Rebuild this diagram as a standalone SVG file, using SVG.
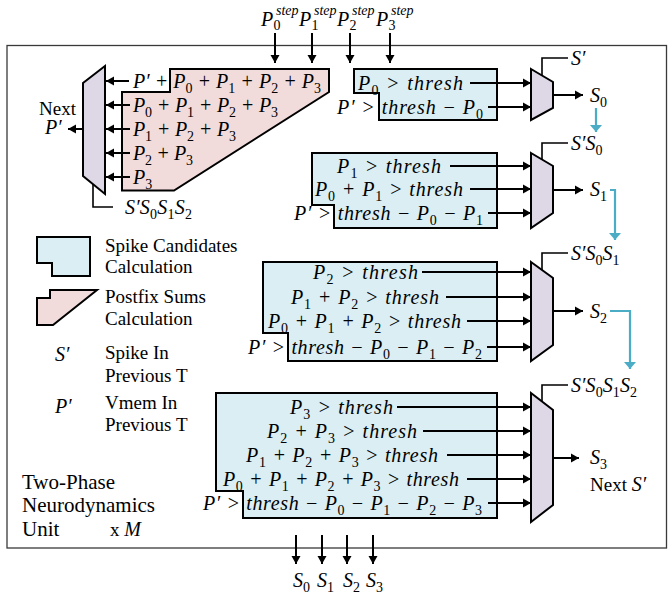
<svg xmlns="http://www.w3.org/2000/svg" width="669" height="597" viewBox="0 0 669 597">
<defs>
<style>
.fr{fill:none;stroke:#3a3a3a;stroke-width:1.3}
.bx{fill:#daeef3;stroke:#000;stroke-width:2}
.pk{fill:#f2dcdb;stroke:#000;stroke-width:2}
.mx{fill:#ddd7e6;stroke:#000;stroke-width:2}
.ar{stroke:#000;stroke-width:2;fill:none;marker-end:url(#ah)}
.ln{stroke:#000;stroke-width:1.6;fill:none}
.bl{stroke:#4bacc6;stroke-width:2.2;fill:none;marker-end:url(#bh)}
.m{font-family:"Liberation Serif",serif;font-style:italic;font-size:20px}
.s{font-size:14px;font-style:normal}
.si{font-size:14px}
.t{font-family:"Liberation Serif",serif;font-size:19px}
.u{font-family:"Liberation Serif",serif;font-size:21px}
</style>
<marker id="ah" markerUnits="userSpaceOnUse" markerWidth="9" markerHeight="10" refX="8" refY="5" orient="auto"><path d="M0,0.5 L8,5 L0,9.5 z" fill="#000"/></marker>
<marker id="bh" markerUnits="userSpaceOnUse" markerWidth="8" markerHeight="12" refX="7" refY="6" orient="auto"><path d="M0,0 L7,6 L0,12 z" fill="#4bacc6"/></marker>
</defs>
<rect width="669" height="597" fill="#fff"/>
<rect id="frame" class="fr" x="7" y="45.5" width="659.5" height="502.5"/>

<g id="top-inputs">
<text class="m" x="261" y="26">P<tspan class="s" x="273.5" y="30">0</tspan><tspan class="si" x="276" y="15">step</tspan></text>
<text class="m" x="299" y="26">P<tspan class="s" x="311.5" y="30">1</tspan><tspan class="si" x="314" y="15">step</tspan></text>
<text class="m" x="337" y="26">P<tspan class="s" x="349.5" y="30">2</tspan><tspan class="si" x="352" y="15">step</tspan></text>
<text class="m" x="376" y="26">P<tspan class="s" x="388.5" y="30">3</tspan><tspan class="si" x="391" y="15">step</tspan></text>
</g>

<g id="postfix-sums">
<polygon class="pk" points="170,69 329,69 329,92 174,190.5 122,190.5 122,92 170,92"/>
<text class="m" x="133" y="87.5" textLength="188" lengthAdjust="spacing">P′ + P<tspan class="s" dy="5">0</tspan><tspan dy="-5"> + P</tspan><tspan class="s" dy="5">1</tspan><tspan dy="-5"> + P</tspan><tspan class="s" dy="5">2</tspan><tspan dy="-5"> + P</tspan><tspan class="s" dy="5">3</tspan></text>
<text class="m" x="133" y="111.5" textLength="145" lengthAdjust="spacing">P<tspan class="s" dy="5">0</tspan><tspan dy="-5"> + P</tspan><tspan class="s" dy="5">1</tspan><tspan dy="-5"> + P</tspan><tspan class="s" dy="5">2</tspan><tspan dy="-5"> + P</tspan><tspan class="s" dy="5">3</tspan></text>
<text class="m" x="133" y="135.5" textLength="103" lengthAdjust="spacing">P<tspan class="s" dy="5">1</tspan><tspan dy="-5"> + P</tspan><tspan class="s" dy="5">2</tspan><tspan dy="-5"> + P</tspan><tspan class="s" dy="5">3</tspan></text>
<text class="m" x="133" y="159.5" textLength="60" lengthAdjust="spacing">P<tspan class="s" dy="5">2</tspan><tspan dy="-5"> + P</tspan><tspan class="s" dy="5">3</tspan></text>
<text class="m" x="133" y="183.5">P<tspan class="s" dy="5">3</tspan></text>
</g>

<g id="mux-p">
<polygon class="mx" points="83,83 105,66 105,194 83,176"/>
<text class="t" x="39" y="115">Next</text>
<text class="m" x="45" y="134">P′</text>
<text class="m" x="125" y="214" textLength="67" lengthAdjust="spacing">S′S<tspan class="s" dy="5">0</tspan><tspan dy="-5">S</tspan><tspan class="s" dy="5">1</tspan><tspan dy="-5">S</tspan><tspan class="s" dy="5">2</tspan></text>
</g>

<g id="cand0">
<polygon class="bx" points="354,69 497,69 497,120 379,120 379,93 354,93"/>
<text class="m" x="358" y="89.5" textLength="105" lengthAdjust="spacing">P<tspan class="s" dy="5">0</tspan><tspan dy="-5"> &gt; thresh</tspan></text>
<text class="m" x="337" y="113.5" textLength="146" lengthAdjust="spacing">P′ &gt; thresh − P<tspan class="s" dy="5">0</tspan></text>
</g>

<g id="cand1">
<polygon class="bx" points="312,153 497,153 497,228 334,228 334,205 312,205"/>
<text class="m" x="337" y="172.5" textLength="104" lengthAdjust="spacing">P<tspan class="s" dy="5">1</tspan><tspan dy="-5"> &gt; thresh</tspan></text>
<text class="m" x="315" y="195.5" textLength="148" lengthAdjust="spacing">P<tspan class="s" dy="5">0</tspan><tspan dy="-5"> + P</tspan><tspan class="s" dy="5">1</tspan><tspan dy="-5"> &gt; thresh</tspan></text>
<text class="m" x="294" y="219.5" textLength="189" lengthAdjust="spacing">P′ &gt; thresh − P<tspan class="s" dy="5">0</tspan><tspan dy="-5"> − P</tspan><tspan class="s" dy="5">1</tspan></text>
</g>

<g id="cand2">
<polygon class="bx" points="263,262 497,262 497,361 288,361 288,333 263,333"/>
<text class="m" x="313" y="278.5" textLength="105" lengthAdjust="spacing">P<tspan class="s" dy="5">2</tspan><tspan dy="-5"> &gt; thresh</tspan></text>
<text class="m" x="291" y="303.5" textLength="148" lengthAdjust="spacing">P<tspan class="s" dy="5">1</tspan><tspan dy="-5"> + P</tspan><tspan class="s" dy="5">2</tspan><tspan dy="-5"> &gt; thresh</tspan></text>
<text class="m" x="268" y="327.5" textLength="193" lengthAdjust="spacing">P<tspan class="s" dy="5">0</tspan><tspan dy="-5"> + P</tspan><tspan class="s" dy="5">1</tspan><tspan dy="-5"> + P</tspan><tspan class="s" dy="5">2</tspan><tspan dy="-5"> &gt; thresh</tspan></text>
<text class="m" x="248" y="353.5" textLength="234" lengthAdjust="spacing">P′ &gt; thresh − P<tspan class="s" dy="5">0</tspan><tspan dy="-5"> − P</tspan><tspan class="s" dy="5">1</tspan><tspan dy="-5"> − P</tspan><tspan class="s" dy="5">2</tspan></text>
</g>

<g id="cand3">
<polygon class="bx" points="216,393 497,393 497,518 243,518 243,491 216,491"/>
<text class="m" x="290" y="413.5" textLength="103" lengthAdjust="spacing">P<tspan class="s" dy="5">3</tspan><tspan dy="-5"> &gt; thresh</tspan></text>
<text class="m" x="267" y="437.5" textLength="150" lengthAdjust="spacing">P<tspan class="s" dy="5">2</tspan><tspan dy="-5"> + P</tspan><tspan class="s" dy="5">3</tspan><tspan dy="-5"> &gt; thresh</tspan></text>
<text class="m" x="246" y="461.5" textLength="192" lengthAdjust="spacing">P<tspan class="s" dy="5">1</tspan><tspan dy="-5"> + P</tspan><tspan class="s" dy="5">2</tspan><tspan dy="-5"> + P</tspan><tspan class="s" dy="5">3</tspan><tspan dy="-5"> &gt; thresh</tspan></text>
<text class="m" x="223" y="485.5" textLength="236" lengthAdjust="spacing">P<tspan class="s" dy="5">0</tspan><tspan dy="-5"> + P</tspan><tspan class="s" dy="5">1</tspan><tspan dy="-5"> + P</tspan><tspan class="s" dy="5">2</tspan><tspan dy="-5"> + P</tspan><tspan class="s" dy="5">3</tspan><tspan dy="-5"> &gt; thresh</tspan></text>
<text class="m" x="203" y="509.5" textLength="279" lengthAdjust="spacing">P′ &gt; thresh − P<tspan class="s" dy="5">0</tspan><tspan dy="-5"> − P</tspan><tspan class="s" dy="5">1</tspan><tspan dy="-5"> − P</tspan><tspan class="s" dy="5">2</tspan><tspan dy="-5"> − P</tspan><tspan class="s" dy="5">3</tspan></text>
</g>

<g id="mux0">
<polygon class="mx" points="531,69 553,82 553,108 531,120"/>
<text class="m" x="571" y="65">S′</text>
<text class="m" x="590" y="102">S<tspan class="s" dy="5">0</tspan></text>
</g>
<g id="mux1">
<polygon class="mx" points="531,153 553,166 553,213 531,228"/>
<text class="m" x="571" y="150">S′S<tspan class="s" dy="5">0</tspan></text>
<text class="m" x="590" y="196">S<tspan class="s" dy="5">1</tspan></text>
</g>
<g id="mux2">
<polygon class="mx" points="531,262 553,278 553,345 531,361"/>
<text class="m" x="571" y="260">S′S<tspan class="s" dy="5">0</tspan><tspan dy="-5">S</tspan><tspan class="s" dy="5">1</tspan></text>
<text class="m" x="590" y="318">S<tspan class="s" dy="5">2</tspan></text>
</g>
<g id="mux3">
<polygon class="mx" points="531,393 553,410 553,505 531,522"/>
<text class="m" x="571" y="392" textLength="66" lengthAdjust="spacing">S′S<tspan class="s" dy="5">0</tspan><tspan dy="-5">S</tspan><tspan class="s" dy="5">1</tspan><tspan dy="-5">S</tspan><tspan class="s" dy="5">2</tspan></text>
<text class="m" x="590" y="464">S<tspan class="s" dy="5">3</tspan></text>
<text class="t" x="590" y="491">Next <tspan class="m">S′</tspan></text>
</g>

<g id="outputs">
<text class="m" x="293" y="587">S<tspan class="s" dy="5">0</tspan></text>
<text class="m" x="317" y="587">S<tspan class="s" dy="5">1</tspan></text>
<text class="m" x="343" y="587">S<tspan class="s" dy="5">2</tspan></text>
<text class="m" x="366" y="587">S<tspan class="s" dy="5">3</tspan></text>
</g>

<g id="legend">
<polygon class="bx" points="37,237 90,237 90,276 52,276 52,263 37,263"/>
<text class="t" x="105" y="252">Spike Candidates</text>
<text class="t" x="105" y="273">Calculation</text>
<polygon class="pk" points="37,298 50,298 50,290 97,290 53,325 37,325"/>
<text class="t" x="105" y="303">Postfix Sums</text>
<text class="t" x="105" y="325">Calculation</text>
<text class="m" x="55" y="361">S′</text>
<text class="t" x="105" y="359">Spike In</text>
<text class="t" x="105" y="382">Previous T</text>
<text class="m" x="55" y="413">P′</text>
<text class="t" x="105" y="409">Vmem In</text>
<text class="t" x="105" y="431">Previous T</text>
</g>

<g id="unit-label">
<text class="u" x="22" y="489">Two-Phase</text>
<text class="u" x="22" y="512">Neurodynamics</text>
<text class="u" x="22" y="536">Unit</text>
<text class="t" x="110" y="536">x <tspan class="m">M</tspan></text>
</g>

<g id="connectors">
<line class="ar" x1="275" y1="33" x2="275" y2="63"/>
<line class="ar" x1="312" y1="33" x2="312" y2="63"/>
<line class="ar" x1="350" y1="33" x2="350" y2="63"/>
<line class="ar" x1="390" y1="33" x2="390" y2="63"/>

<line class="ar" x1="129" y1="81" x2="106" y2="81"/>
<line class="ar" x1="130" y1="105" x2="106" y2="105"/>
<line class="ar" x1="130" y1="129" x2="106" y2="129"/>
<line class="ar" x1="130" y1="153" x2="106" y2="153"/>
<line class="ar" x1="130" y1="177" x2="106" y2="177"/>
<line class="ar" x1="83" y1="129" x2="68" y2="129"/>
<path class="ln" d="M93,184 V207 H113"/>

<line class="ar" x1="470" y1="83" x2="531" y2="83"/>
<line class="ar" x1="488" y1="107" x2="531" y2="107"/>
<line class="ar" x1="450" y1="166" x2="531" y2="166"/>
<line class="ar" x1="470" y1="189" x2="531" y2="189"/>
<line class="ar" x1="488" y1="213" x2="531" y2="213"/>
<line class="ar" x1="422" y1="272" x2="531" y2="272"/>
<line class="ar" x1="446" y1="297" x2="531" y2="297"/>
<line class="ar" x1="467" y1="321" x2="531" y2="321"/>
<line class="ar" x1="487" y1="347" x2="531" y2="347"/>
<line class="ar" x1="397" y1="407" x2="531" y2="407"/>
<line class="ar" x1="423" y1="431" x2="531" y2="431"/>
<line class="ar" x1="447" y1="455" x2="531" y2="455"/>
<line class="ar" x1="467" y1="479" x2="531" y2="479"/>
<line class="ar" x1="488" y1="503" x2="531" y2="503"/>

<path class="ln" d="M542,75.5 V58 H568"/>
<path class="ln" d="M542,159.5 V143 H568"/>
<path class="ln" d="M542,270 V253 H568"/>
<path class="ln" d="M542,401.5 V385 H568"/>

<line class="ar" x1="553" y1="95" x2="583" y2="95"/>
<line class="ar" x1="553" y1="190" x2="583" y2="190"/>
<line class="ar" x1="553" y1="311" x2="583" y2="311"/>
<line class="ar" x1="553" y1="458" x2="579" y2="458"/>

<path class="bl" d="M596,108 V132"/>
<path class="bl" d="M610,190 H615 V240"/>
<path class="bl" d="M610,311 H630 V369"/>

<line class="ar" x1="296" y1="535" x2="296" y2="564"/>
<line class="ar" x1="322" y1="535" x2="322" y2="564"/>
<line class="ar" x1="347" y1="535" x2="347" y2="564"/>
<line class="ar" x1="373" y1="535" x2="373" y2="564"/>
</g>
</svg>
